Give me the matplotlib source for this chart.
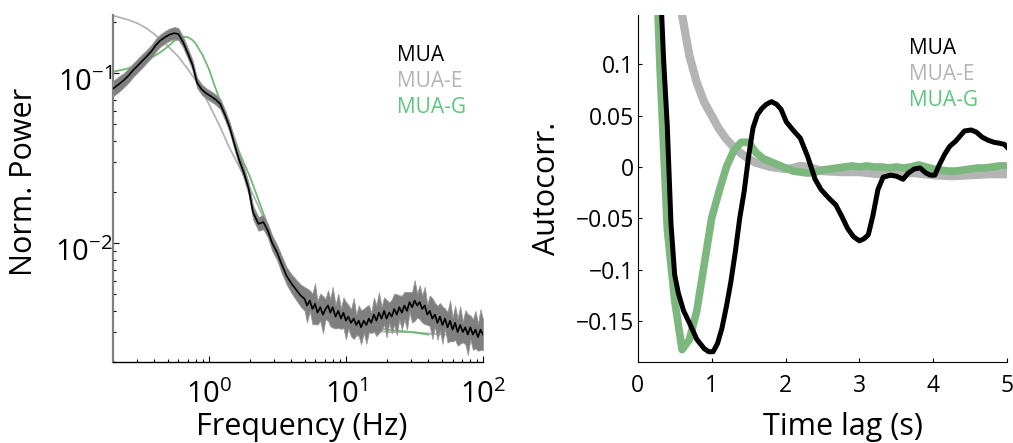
import numpy as np
import matplotlib
matplotlib.use('Agg')
import matplotlib.pyplot as plt
import matplotlib.transforms as mtransforms
from matplotlib.ticker import FixedLocator, FixedFormatter, NullFormatter

plt.rcParams['font.family'] = ['Open Sans', 'DejaVu Sans']
plt.rcParams['mathtext.default'] = 'regular'
plt.rcParams['axes.unicode_minus'] = True

# ---------------- Left panel data (power spectrum) ----------------
mua_freq_low = [0.20, 0.22, 0.24, 0.26, 0.28, 0.30, 0.32, 0.35, 0.38, 0.41, 0.44, 0.48,
                0.52, 0.56, 0.60, 0.65, 0.70, 0.76, 0.82, 0.89, 0.96, 1.04, 1.12, 1.21,
                1.31, 1.42, 1.54, 1.66, 1.80, 1.95, 2.1, 2.3, 2.5, 2.7, 2.9, 3.15, 3.4,
                3.7, 4.0, 4.35, 4.7]
mua_pow_low = [0.081, 0.086, 0.091, 0.097, 0.104, 0.110, 0.116, 0.125, 0.134, 0.146, 0.155,
               0.163, 0.169, 0.172, 0.170, 0.152, 0.132, 0.112, 0.088, 0.080, 0.076, 0.073,
               0.070, 0.066, 0.057, 0.048, 0.038, 0.031, 0.026, 0.021, 0.0152, 0.0130,
               0.0133, 0.0118, 0.0100, 0.0088, 0.0075, 0.0064, 0.0058, 0.0053, 0.0049]
mua_err_low = [0.045, 0.045, 0.042, 0.042, 0.040, 0.040, 0.040, 0.038, 0.038, 0.038, 0.036,
               0.036, 0.036, 0.036, 0.035, 0.032, 0.030, 0.030, 0.030, 0.030, 0.030, 0.030,
               0.030, 0.030, 0.030, 0.030, 0.030, 0.032, 0.035, 0.035, 0.040, 0.040, 0.042,
               0.040, 0.045, 0.045, 0.050, 0.050, 0.055, 0.060, 0.065]
mua_freq_high = [5.0, 5.2, 5.45, 5.7, 5.95, 6.2, 6.5, 6.8, 7.1, 7.4, 7.7, 8.0, 8.4, 8.8, 9.2,
                 9.6, 10.0, 10.4, 10.9, 11.4, 11.9, 12.4, 12.9, 13.5, 14.1, 14.7, 15.3, 16.0,
                 16.7, 17.4, 18.2, 19.0, 19.8, 20.7, 21.6, 22.5, 23.5, 24.5, 25.6, 26.7, 27.9,
                 29.1, 30.4, 31.7, 33.1, 34.5, 36.0, 37.6, 39.2, 40.9, 42.7, 44.6, 46.5, 48.5,
                 50.6, 52.8, 55.1, 57.5, 60.0, 62.6, 65.3, 68.2, 71.2, 74.3, 77.5, 80.9, 84.4,
                 88.1, 91.9, 95.9, 100.0]
mua_pow_high = [0.0047, 0.0043, 0.0046, 0.0041, 0.0044, 0.0039, 0.0042, 0.0038, 0.0041, 0.0043,
                0.0039, 0.0042, 0.0037, 0.0040, 0.0036, 0.0039, 0.0035, 0.0037, 0.0034, 0.0036,
                0.0033, 0.0035, 0.0032, 0.0035, 0.0033, 0.0036, 0.0034, 0.0038, 0.0035, 0.0039,
                0.0036, 0.0040, 0.0036, 0.0039, 0.0037, 0.0041, 0.0038, 0.0042, 0.0039, 0.0043,
                0.0040, 0.0045, 0.0042, 0.0046, 0.0043, 0.0045, 0.0041, 0.0043, 0.0038, 0.0040,
                0.0036, 0.0038, 0.0034, 0.0037, 0.0033, 0.0036, 0.0032, 0.0035, 0.0031, 0.0034,
                0.0030, 0.0033, 0.0030, 0.0032, 0.0029, 0.0032, 0.0029, 0.0031, 0.0028, 0.0031,
                0.0029]
mua_err_high = [0.07, 0.10, 0.06, 0.09, 0.12, 0.07, 0.08, 0.11, 0.06, 0.09, 0.08, 0.12, 0.07,
                0.10, 0.06, 0.09, 0.11, 0.07, 0.08, 0.12, 0.06, 0.09, 0.10, 0.07, 0.11, 0.08,
                0.06, 0.10, 0.09, 0.12, 0.07, 0.08, 0.11, 0.06, 0.10, 0.09, 0.12, 0.07, 0.10,
                0.08, 0.11, 0.06, 0.09, 0.12, 0.07, 0.10, 0.08, 0.11, 0.06, 0.09, 0.12, 0.07,
                0.10, 0.08, 0.11, 0.06, 0.09, 0.12, 0.07, 0.10, 0.08, 0.11, 0.06, 0.10, 0.12,
                0.07, 0.09, 0.11, 0.08, 0.12, 0.09]

mua_e_freq = [0.2, 0.25, 0.3, 0.35, 0.4, 0.45, 0.5, 0.6, 0.7, 0.8, 0.9, 1.0, 1.2, 1.4, 1.6,
              1.8, 2.0, 2.3, 2.6, 3.0, 3.5, 4.0, 5.0, 6.0, 7.0, 8.0, 10, 15, 20, 30, 50, 100]
mua_e_pow = [0.218, 0.208, 0.197, 0.184, 0.170, 0.156, 0.145, 0.125, 0.106, 0.091, 0.077,
             0.066, 0.049, 0.037, 0.030, 0.025, 0.021, 0.0165, 0.0130, 0.0098, 0.0075,
             0.0060, 0.0046, 0.0040, 0.0037, 0.0035, 0.0033, 0.0031, 0.0030, 0.0030, 0.0029,
             0.0029]

mua_g_freq = [0.2, 0.25, 0.3, 0.35, 0.4, 0.45, 0.5, 0.55, 0.6, 0.65, 0.7, 0.75, 0.8, 0.85,
              0.9, 1.0, 1.1, 1.2, 1.35, 1.5, 1.7, 2.0, 2.5, 3.0, 3.5, 4.0, 5.0, 6.0, 7.0,
              8.0, 10, 15, 20, 30, 40]
mua_g_pow = [0.102, 0.106, 0.112, 0.119, 0.126, 0.134, 0.143, 0.153, 0.161, 0.164, 0.163,
             0.158, 0.150, 0.138, 0.128, 0.106, 0.085, 0.070, 0.055, 0.044, 0.033, 0.0245,
             0.0150, 0.0100, 0.0076, 0.0064, 0.0052, 0.0046, 0.0042, 0.0039, 0.0035,
             0.0032, 0.0031, 0.0030, 0.0029]

# ---------------- Right panel data (autocorrelation) ----------------
mua_lag = [0, 0.1, 0.2, 0.3, 0.35, 0.40, 0.45, 0.50, 0.55, 0.62, 0.70, 0.80, 0.90, 0.96,
           1.02, 1.08, 1.14, 1.20, 1.26, 1.32, 1.38, 1.44, 1.50, 1.56, 1.62, 1.68, 1.74,
           1.81, 1.88, 1.94, 2.01, 2.10, 2.20, 2.30, 2.40, 2.48, 2.58, 2.68, 2.76, 2.84,
           2.92, 3.00, 3.06, 3.12, 3.18, 3.25, 3.32, 3.42, 3.50, 3.59, 3.66, 3.74, 3.82,
           3.90, 3.96, 4.02, 4.08, 4.15, 4.22, 4.30, 4.36, 4.42, 4.51, 4.58, 4.66, 4.74,
           4.82, 4.90, 4.96, 5.00]
mua_ac = [1.0, 0.72, 0.43, 0.19, 0.105, 0.040, -0.055, -0.105, -0.123, -0.140, -0.152,
          -0.168, -0.177, -0.180, -0.180, -0.172, -0.157, -0.136, -0.112, -0.083, -0.050,
          -0.024, 0.010, 0.038, 0.051, 0.057, 0.061, 0.0636, 0.061, 0.056, 0.044, 0.036,
          0.028, 0.010, -0.012, -0.022, -0.030, -0.037, -0.048, -0.060, -0.068, -0.072,
          -0.070, -0.066, -0.048, -0.022, -0.010, -0.008, -0.009, -0.012, -0.006, -0.002,
          -0.001, -0.006, -0.008, -0.008, 0.002, 0.012, 0.020, 0.025, 0.030, 0.035, 0.036,
          0.034, 0.029, 0.026, 0.024, 0.023, 0.022, 0.019]

mua_e_lag = [0, 0.1, 0.2, 0.3, 0.4, 0.5, 0.6, 0.65, 0.7, 0.8, 0.9, 1.0, 1.1, 1.2, 1.3, 1.4,
             1.5, 1.6, 1.7, 1.8, 1.9, 2.0, 2.1, 2.2, 2.3, 2.4, 2.5, 2.75, 3.0, 3.25, 3.5,
             3.75, 4.0, 4.25, 4.5, 4.75, 5.0]
mua_e_ac = [1.0, 0.75, 0.55, 0.40, 0.28, 0.20, 0.148, 0.128, 0.108, 0.082, 0.063, 0.050,
            0.037, 0.027, 0.019, 0.013, 0.008, 0.004, 0.002, 0.000, -0.001, -0.002, -0.001,
            0.001, 0.000, -0.002, -0.004, -0.005, -0.005, -0.007, -0.006, -0.006, -0.008,
            -0.009, -0.008, -0.007, -0.007]

mua_g_lag = [0, 0.1, 0.2, 0.3, 0.4, 0.5, 0.6, 0.7, 0.8, 0.9, 1.0, 1.1, 1.2, 1.3, 1.4, 1.5,
             1.6, 1.7, 1.8, 1.9, 2.0, 2.1, 2.2, 2.3, 2.4, 2.5, 2.6, 2.7, 2.8, 2.9, 3.0, 3.1,
             3.2, 3.3, 3.4, 3.5, 3.6, 3.7, 3.8, 3.9, 4.0, 4.1, 4.2, 4.3, 4.4, 4.5, 4.6, 4.7,
             4.8, 4.9, 5.0]
mua_g_ac = [1.0, 0.60, 0.30, 0.10, -0.06, -0.13, -0.178, -0.168, -0.140, -0.095, -0.050,
            -0.024, 0.000, 0.016, 0.024, 0.024, 0.014, 0.008, 0.005, 0.002, -0.001, -0.004,
            -0.005, -0.006, -0.005, -0.003, -0.002, -0.001, 0.000, 0.001, 0.000, 0.001,
            0.000, 0.000, -0.001, 0.000, -0.001, 0.000, 0.002, 0.000, -0.002, -0.003,
            -0.004, -0.004, -0.003, -0.002, -0.001, -0.001, 0.000, 0.001, 0.001]

legend_labels = ['MUA', 'MUA-E', 'MUA-G']
legend_colors = ['#000000', '#b4b4b4', '#5cc77c']

# ---------------- Figure ----------------
W, H = 1013, 443
fig = plt.figure(figsize=(W / 100, H / 100), dpi=100)


def px_axes(l, t, r, b):
    return fig.add_axes([l / W, 1 - b / H, (r - l) / W, (b - t) / H])


ax1 = px_axes(113, 15, 483, 362)
ax2 = px_axes(637.7, 15, 1007.3, 362)

# Left panel
f = np.array(mua_freq_low + mua_freq_high)
p = np.array(mua_pow_low + mua_pow_high)
e = np.array(mua_err_low + mua_err_high)
ax1.plot(mua_e_freq, mua_e_pow, color='#b4b4b4', lw=1.3, zorder=1)
ax1.plot(mua_g_freq, mua_g_pow, color='#6dbb72', lw=1.3, zorder=2)
ax1.fill_between(f, p * 10 ** (-e), p * 10 ** e, color='#7f7f7f', lw=0.6,
                 edgecolor='#9a9a9a', zorder=3)
ax1.plot(f, p, color='black', lw=1.2, zorder=4)
ax1.set_xscale('log')
ax1.set_yscale('log')
ax1.set_xlim(0.2, 100)
ax1.set_ylim(0.002, 0.22)
ax1.xaxis.set_major_locator(FixedLocator([1, 10, 100]))
ax1.xaxis.set_major_formatter(FixedFormatter(['$10^{0}$', '$10^{1}$', '$10^{2}$']))
ax1.yaxis.set_major_locator(FixedLocator([0.01, 0.1]))
ax1.yaxis.set_major_formatter(FixedFormatter(['$10^{-2}$', '$10^{-1}$']))
ax1.xaxis.set_minor_formatter(NullFormatter())
ax1.yaxis.set_minor_formatter(NullFormatter())
ax1.tick_params(which='both', direction='in', labelsize=21, width=0.8)
ax1.tick_params(axis='x', pad=13)
ax1.tick_params(axis='y', pad=0.5)
ax1.tick_params(which='major', length=4)
ax1.tick_params(which='minor', length=2.5)
for s in ['top', 'right']:
    ax1.spines[s].set_visible(False)
ax1.spines['left'].set_color('#808080')
ax1.spines['left'].set_linewidth(1.6)
ax1.spines['bottom'].set_linewidth(1.0)
ax1.set_xlabel('Frequency (Hz)', fontsize=22)
ax1.set_ylabel('Norm. Power', fontsize=22)
ax1.xaxis.set_label_coords(0.51, -0.145)
ax1.yaxis.set_label_coords(-0.2, 0.52)
leg1 = ax1.legend([plt.Line2D([], [])] * 3, legend_labels, loc='upper left',
                  bbox_to_anchor=(0.74, 0.945), frameon=False, handlelength=0,
                  handletextpad=0, fontsize=15, labelspacing=0.25, borderpad=0)
for t, c in zip(leg1.get_texts(), legend_colors):
    t.set_color(c)

# Right panel
ax2.plot(mua_e_lag, mua_e_ac, color='#b4b4b4', lw=6, zorder=1, solid_capstyle='butt')
ax2.plot(mua_g_lag, mua_g_ac, color='#7cb87e', lw=5.5, zorder=2, solid_capstyle='butt')
ax2.plot(mua_lag, mua_ac, color='black', lw=3.6, zorder=3)
ax2.set_xlim(0, 5)
ax2.set_ylim(-0.19, 0.148)
ax2.set_xticks([0, 1, 2, 3, 4, 5])
ax2.set_yticks([-0.15, -0.1, -0.05, 0, 0.05, 0.1])
ax2.set_yticklabels(['\u22120.15', '\u22120.1', '\u22120.05', '0', '0.05', '0.1'])
ax2.tick_params(direction='in', length=3, width=0.8, labelsize=16.5)
ax2.tick_params(axis='x', pad=9)
ax2.tick_params(axis='y', pad=2.5)
for s in ['top', 'right']:
    ax2.spines[s].set_visible(False)
ax2.set_xlabel('Time lag (s)', fontsize=22)
ax2.set_ylabel('Autocorr.', fontsize=22)
ax2.xaxis.set_label_coords(0.555, -0.145)
ax2.yaxis.set_label_coords(-0.205, 0.5)
leg2 = ax2.legend([plt.Line2D([], [])] * 3, legend_labels, loc='upper left',
                  bbox_to_anchor=(0.705, 0.965), frameon=False, handlelength=0,
                  handletextpad=0, fontsize=15, labelspacing=0.25, borderpad=0)
for t, c in zip(leg2.get_texts(), legend_colors):
    t.set_color(c)

# shift the log-axis y tick labels slightly down (MATLAB-style placement)
shift = mtransforms.ScaledTranslation(0, -6 / 100, fig.dpi_scale_trans)
for lbl in ax1.get_yticklabels():
    lbl.set_transform(lbl.get_transform() + shift)

fig.savefig('out.png', dpi=100)
